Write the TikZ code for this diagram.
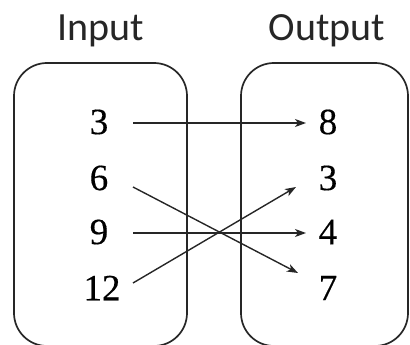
\documentclass[tikz,border=0pt]{standalone}
\usepackage{fontspec}
\setmainfont{Liberation Serif}
\newfontfamily\headfont{Carlito}
\newfontfamily\numfont{Liberation Serif}[FakeBold=0.4]
\usetikzlibrary{arrows.meta}
\begin{document}
\begin{tikzpicture}[x=1pt,y=-1pt,
  setbox/.style={draw=black!85,line width=1.7pt,rounded corners=33pt},
  head/.style={font=\headfont\fontsize{40}{44}\selectfont,text=black!85},
  num/.style={font=\numfont\fontsize{37}{40}\selectfont,inner sep=0pt},
  arr/.style={draw=black!85,line width=1.4pt,-{Stealth[length=11pt,width=8pt,inset=3pt]}}]
\useasboundingbox (0,0) rectangle (410,345);
\clip (0,0) rectangle (410,345);
\node[head] (inp) at (101,31) {Input};
\node[head] (outp) at (327,31) {Output};
\draw[setbox] (14,63) rectangle (187,346);
\draw[setbox] (241,63) rectangle (408,346);
\node[num] (i3) at (99,122) {3};
\node[num] (i6) at (99,178) {6};
\node[num] (i9) at (99,232) {9};
\node[num] (i12) at (102,288) {12};
\node[num] (o8) at (328,122) {8};
\node[num] (o3) at (328,178) {3};
\node[num] (o4) at (328,232) {4};
\node[num] (o7) at (328,288) {7};
\coordinate (s3) at (133,123);
\coordinate (e8) at (306,123);
\coordinate (s6) at (133,187);
\coordinate (e7) at (298,273);
\coordinate (s9) at (133,233);
\coordinate (e4) at (306,233);
\coordinate (s12) at (133,283);
\coordinate (e3) at (296,187);
\draw[arr] (s3) -- (e8);
\draw[arr] (s6) -- (e7);
\draw[arr] (s9) -- (e4);
\draw[arr] (s12) -- (e3);
\end{tikzpicture}
\end{document}
